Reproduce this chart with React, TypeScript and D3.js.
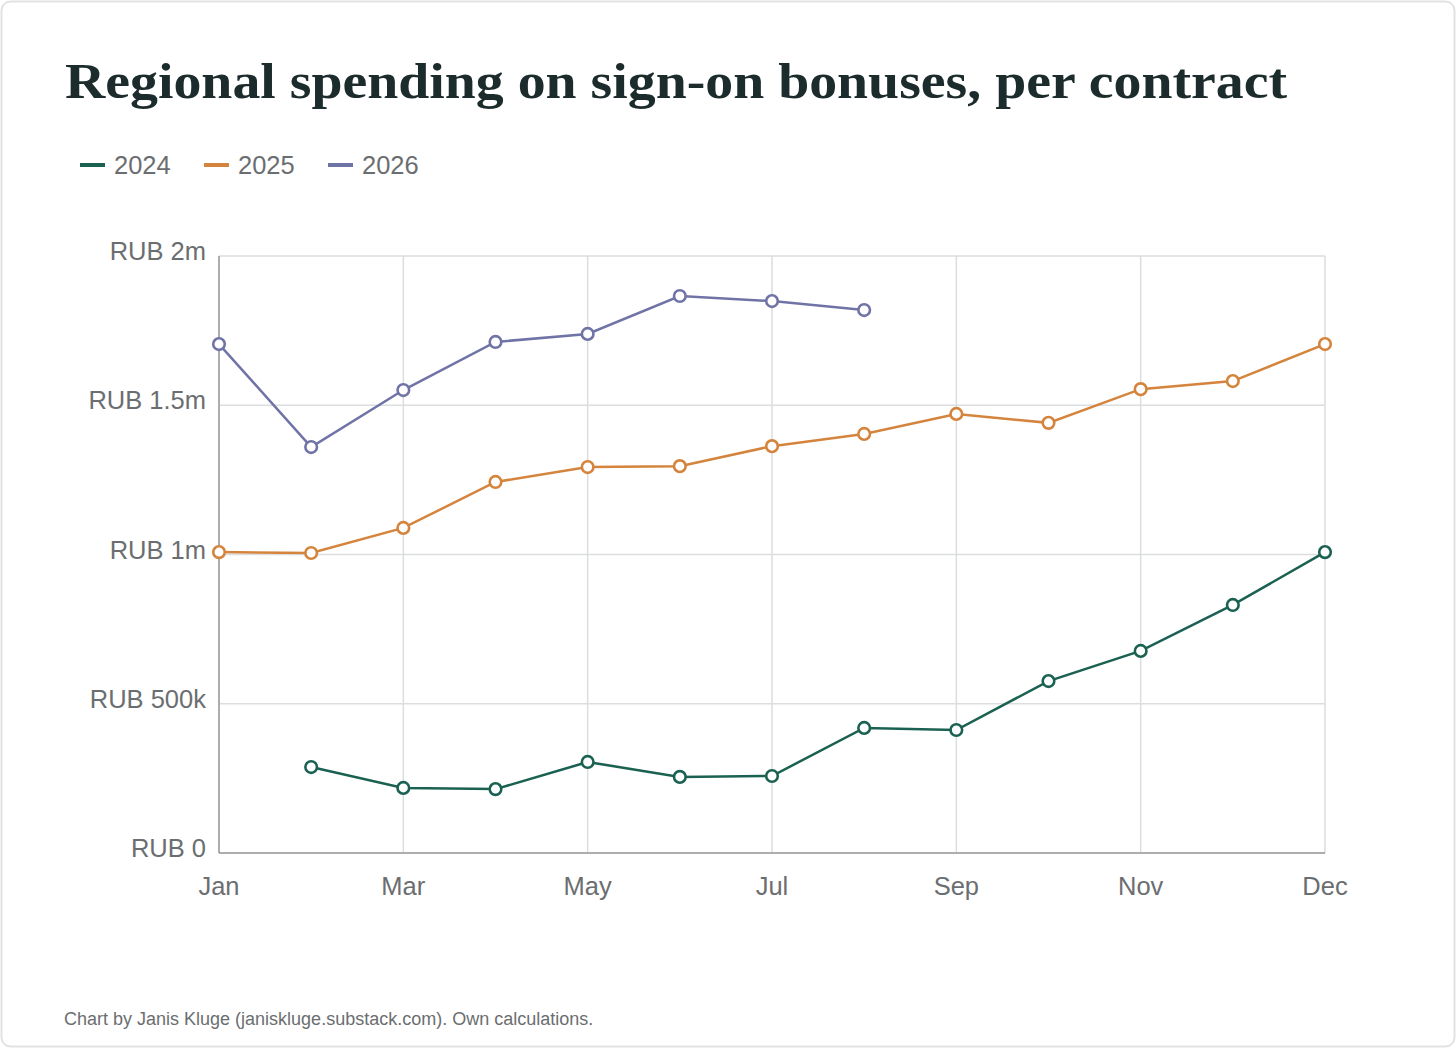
import React, { useEffect } from "react";
import * as d3 from "d3";

// month slots: Jan .. Dec plus the following Jan (last slot is labelled "Dec" in the source)
const slots = d3.range(13);
const tickSlots = [0, 2, 4, 6, 8, 10, 12];
const tickLabels = ["Jan", "Mar", "May", "Jul", "Sep", "Nov", "Dec"];

const yTicks = [0, 500000, 1000000, 1500000, 2000000];
const yTickLabels = ["RUB 0", "RUB 500k", "RUB 1m", "RUB 1.5m", "RUB 2m"];

const seriesNames = ["2024", "2025", "2026"];
const seriesColors = ["#1b6152", "#d4843c", "#7073a6"];

const values2024: (number | null)[] = [null, 288000, 218000, 214000, 305000, 255000, 258000, 419000, 412000, 576000, 677000, 831000, 1008000];
const values2025: (number | null)[] = [1008000, 1005000, 1089000, 1243000, 1293000, 1296000, 1363000, 1404000, 1471000, 1441000, 1554000, 1581000, 1705000];
const values2026: (number | null)[] = [1705000, 1360000, 1551000, 1712000, 1739000, 1866000, 1849000, 1819000];

const allSeries = [values2024, values2025, values2026];

const W = 1456;
const H = 1048;
const margin = { left: 219, right: 131, top: 256, bottom: 195 };

export default function App() {
  useEffect(() => {
    document.body.style.margin = "0";
  }, []);

  const x = d3.scaleLinear().domain([0, 12]).range([margin.left, W - margin.right]);
  const y = d3.scaleLinear().domain([0, 2000000]).range([H - margin.bottom, margin.top]);

  const line = d3
    .line<number | null>()
    .defined((d) => d != null)
    .x((_, i) => x(slots[i]))
    .y((d) => y(d as number));

  const sans = "Liberation Sans, Arial, sans-serif";
  const labelColor = "#6b6e70";

  return (
    <svg width={W} height={H} style={{ display: "block" }}>
      <rect x={1.5} y={1.5} width={W - 3} height={H - 3} rx={9} fill="#fff" stroke="#e2e2e2" strokeWidth={2} />

      <text x={65} y={98} fontFamily="Liberation Serif, Times New Roman, serif" fontWeight="bold" fontSize={50} fill="#1c2b2b" textLength={1222} lengthAdjust="spacingAndGlyphs">
        Regional spending on sign-on bonuses, per contract
      </text>

      {/* legend */}
      {seriesNames.map((n, i) => {
        const lx = 80 + i * 124;
        return (
          <g key={n}>
            <line x1={lx} x2={lx + 25} y1={165} y2={165} stroke={seriesColors[i]} strokeWidth={4} />
            <text x={lx + 34} y={174} fontFamily={sans} fontSize={25.5} fill={labelColor}>
              {n}
            </text>
          </g>
        );
      })}

      {/* grid */}
      {yTicks.map((t) => (
        <line key={"gy" + t} x1={margin.left} x2={W - margin.right} y1={y(t)} y2={y(t)} stroke="#dcdddf" strokeWidth={1.5} />
      ))}
      {tickSlots.map((s) => (
        <line key={"gx" + s} x1={x(s)} x2={x(s)} y1={margin.top} y2={H - margin.bottom} stroke="#dcdddf" strokeWidth={1.5} />
      ))}

      {/* axes */}
      <line x1={margin.left} x2={margin.left} y1={margin.top} y2={H - margin.bottom} stroke="#9a9a9a" strokeWidth={1.5} />
      <line x1={margin.left} x2={W - margin.right} y1={H - margin.bottom} y2={H - margin.bottom} stroke="#9a9a9a" strokeWidth={1.5} />

      {yTicks.map((t, i) => (
        <text key={"yl" + t} x={206} y={y(t) + 4} textAnchor="end" fontFamily={sans} fontSize={25.5} fill={labelColor}>
          {yTickLabels[i]}
        </text>
      ))}
      {tickSlots.map((s, i) => (
        <text key={"xl" + s} x={x(s)} y={895} textAnchor="middle" fontFamily={sans} fontSize={25.5} fill={labelColor}>
          {tickLabels[i]}
        </text>
      ))}

      {/* series */}
      {allSeries.map((vals, si) => (
        <g key={seriesNames[si]}>
          <path d={line(vals) || ""} fill="none" stroke={seriesColors[si]} strokeWidth={2.5} />
          {vals.map((v, i) =>
            v == null ? null : (
              <circle key={i} cx={x(slots[i])} cy={y(v)} r={5.8} fill="#fff" stroke={seriesColors[si]} strokeWidth={2.6} />
            )
          )}
        </g>
      ))}

      <text x={64} y={1025} fontFamily={sans} fontSize={18} fill="#6b6e70">
        Chart by Janis Kluge (janiskluge.substack.com). Own calculations.
      </text>
    </svg>
  );
}
